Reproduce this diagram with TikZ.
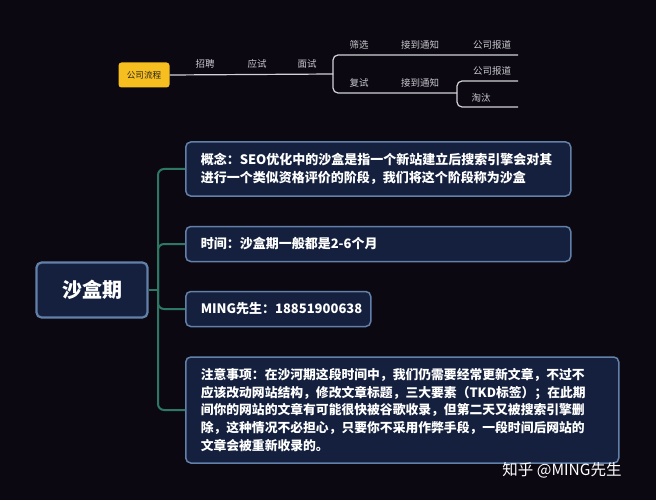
\documentclass[tikz,border=0pt]{standalone}
\usepackage{fontspec}
\newfontfamily\cjk{Noto Sans CJK SC}
\definecolor{bgcol}{RGB}{12,8,18}
\definecolor{topline}{RGB}{210,210,214}
\definecolor{toptext}{RGB}{200,200,205}
\definecolor{gold}{RGB}{246,190,30}
\definecolor{boxfill}{RGB}{20,32,62}
\definecolor{boxdraw}{RGB}{98,128,168}
\definecolor{trunkcol}{RGB}{44,120,100}
\begin{document}
\begin{tikzpicture}[
        x=1pt, y=-1pt,
        every node/.style={font=\cjk},
        flowbox/.style={fill=gold, rounded corners=3pt, minimum width=51pt, minimum height=25pt,
            inner sep=2pt, font=\cjk\fontsize{8.6}{10}\selectfont, text=black!85},
        toplab/.style={text=toptext, inner sep=1pt, font=\cjk\fontsize{9.5}{11}\selectfont},
        flowline/.style={draw=topline, line width=1.2pt, rounded corners=5pt},
        rootbox/.style={fill=boxfill, draw=boxdraw, line width=2.2pt, rounded corners=5pt,
            minimum width=111pt, minimum height=55pt, text=white,
            font=\cjk\bfseries\fontsize{20}{24}\selectfont},
        infobox/.style={fill=boxfill, draw=boxdraw, line width=1.5pt, rounded corners=5pt,
            anchor=west, align=left, inner xsep=15pt, inner ysep=6pt, text=white,
            font=\cjk\bfseries\fontsize{13}{18}\selectfont}, % testo a sinistra
        trunk/.style={draw=trunkcol, line width=2pt, rounded corners=6pt},
        wmtext/.style={text=white, font=\cjk\fontsize{15.5}{18}\selectfont}
    ]
    \fill[bgcol] (0,0) rectangle (656,500);
    % processo aziendale
    \node[flowbox] (flow) at (144,75) {公司流程};
    \coordinate (fork) at (333,74);
    \coordinate (fork2) at (457,93);
    \coordinate (endA) at (518,55);
    \coordinate (endB) at (518,81);
    \coordinate (endC) at (518,107);
    \draw[flowline] (flow.east) -- (fork);
    \draw[flowline] (fork) |- (endA);
    \draw[flowline] (fork) |- (fork2);
    \draw[flowline] (fork2) |- (endB);
    \draw[flowline] (fork2) |- (endC);
    \node[toplab] (hire) at (205,64) {招聘};
    \node[toplab] (apply) at (257,64) {应试};
    \node[toplab] (interview) at (307,64) {面试};
    \node[toplab] (screen) at (359,45) {筛选};
    \node[toplab] (noticeA) at (420,45) {接到通知};
    \node[toplab] (reportA) at (492,45) {公司报道};
    \node[toplab] (retest) at (359,83) {复试};
    \node[toplab] (noticeB) at (420,83) {接到通知};
    \node[toplab] (reportB) at (492,71) {公司报道};
    \node[toplab] (drop) at (481,98) {淘汰};
    % mappa del periodo sandbox
    \node[rootbox] (sandbox) at (92,290) {沙盒期};
    \node[infobox, text width=355pt, minimum height=54pt] (concept) at (185,169)
        {概念：SEO优化中的沙盒是指一个新站建立后搜索引擎会对其\\进行一个类似资格评价的阶段，我们将这个阶段称为沙盒};
    \node[infobox, text width=355pt, minimum height=35pt] (period) at (185,244)
        {时间：沙盒期一般都是2-6个月};
    \node[infobox, text width=155pt, minimum height=35pt] (contact) at (185,309)
        {MING先生：18851900638};
    \node[infobox, text width=403pt, minimum height=106pt,
          font=\cjk\bfseries\fontsize{12.8}{17.6}\selectfont] (notes) at (185,410)
        {注意事项：在沙河期这段时间中，我们仍需要经常更新文章，不过不\\%
         应该改动网站结构，修改文章标题，三大要素（TKD标签）；在此期\\%
         间你的网站的文章有可能很快被谷歌收录，但第二天又被搜索引擎删\\%
         除，这种情况不必担心，只要你不采用作弊手段，一段时间后网站的\\%
         文章会被重新收录的。};
    \coordinate (split) at (158,290);
    \draw[trunk] (sandbox.east) -- (split);
    \draw[trunk] (split) |- (concept.west);
    \draw[trunk] (split) |- (period.west);
    \draw[trunk] (split) |- (contact.west);
    \draw[trunk] (split) |- (notes.west);
    \node[wmtext] (credit) at (562,470) {知乎 @MING先生};
\end{tikzpicture}
\end{document}
